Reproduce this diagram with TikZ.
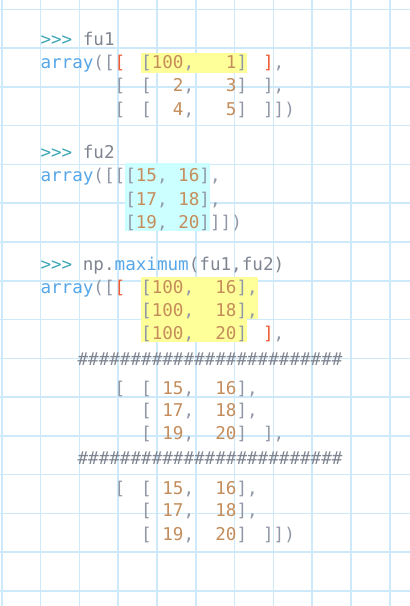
\documentclass[tikz,border=0pt]{standalone}
\usepackage{fontspec}
\setmonofont{DejaVu Sans Mono}
\definecolor{gridc}{RGB}{205,233,250}
\definecolor{prompt}{RGB}{63,167,181}
\definecolor{fnblue}{RGB}{86,166,232}
\definecolor{plain}{RGB}{127,133,144}
\definecolor{punct}{RGB}{144,151,166}
\definecolor{numc}{RGB}{196,141,92}
\definecolor{redb}{RGB}{240,90,50}
\definecolor{hlyellow}{RGB}{255,255,153}
\definecolor{hlcyan}{RGB}{204,255,255}
\newcommand\pr[1]{\textcolor{prompt}{#1}}
\newcommand\fn[1]{\textcolor{fnblue}{#1}}
\newcommand\nm[1]{\textcolor{numc}{#1}}
\newcommand\rd[1]{\textcolor{redb}{#1}}
\newcommand\pl[1]{\textcolor{plain}{#1}}
\newcommand\hashes{\#\#\#\#\#\#\#\#\#\#\#\#\#\#\#\#\#\#\#\#\#\#\#\#\#}
% column -> x
\newcommand\cx[1]{40.5+10.6*#1}
\begin{document}
\begin{tikzpicture}
    [x=1pt,y=-1pt,
     code/.style ={anchor=base west,inner sep=0pt,outer sep=0pt,text=punct,
                   font=\fontsize{17.6}{20}\selectfont\ttfamily},
     hash/.style ={code,text=plain}]
    \useasboundingbox (0,0) rectangle (410,606);
    \fill[white] (0,0) rectangle (410,606);
    % squared paper
    \foreach \i in {0,...,15}
        \draw[gridc,line width=1.6pt] (0,{9.3+38.78*\i}) -- (410,{9.3+38.78*\i});
    \foreach \i in {0,...,10}
        \draw[gridc,line width=1.6pt] ({1.9+38.78*\i},0) -- ({1.9+38.78*\i},606);
    % highlights
    \fill[hlyellow] ({\cx{9.5}},53.3) rectangle ({\cx{19.5}},73.3);
    \fill[hlcyan] ({\cx{8}},163.3) rectangle ({\cx{16}},230.5);
    \fill[hlyellow] ({\cx{9.5}},276.7) rectangle ({\cx{20.5}},319);
    \fill[hlyellow] ({\cx{9.5}},319) rectangle ({\cx{19.5}},342);

    % fu1
    \node[code] (p1) at ({\cx{0}},45.5) {\pr{>>>}~\pl{fu1}};
    \node[code] (a1) at ({\cx{0}},68.5) {\fn{array}([\rd{[}};
    \node[code] (r11) at ({\cx{9.5}},68.5) {[\nm{100},~~~\nm{1}]};
    \node[code] (e11) at ({\cx{21}},68.5) {\rd{]},};
    \node[code] (o12) at ({\cx{7}},91.7) {[};
    \node[code] (r12) at ({\cx{9.5}},91.7) {[~~\nm{2},~~~\nm{3}]};
    \node[code] (e12) at ({\cx{21}},91.7) {],};
    \node[code] (o13) at ({\cx{7}},115) {[};
    \node[code] (r13) at ({\cx{9.5}},115) {[~~\nm{4},~~~\nm{5}]};
    \node[code] (e13) at ({\cx{21}},115) {]])};

    % fu2
    \node[code] (p2) at ({\cx{0}},158.3) {\pr{>>>}~\pl{fu2}};
    \node[code] (a2) at ({\cx{0}},181.7) {\fn{array}([[[\nm{15},~\nm{16}],};
    \node[code] (r22) at ({\cx{8}},205) {[\nm{17},~\nm{18}],};
    \node[code] (r23) at ({\cx{8}},228) {[\nm{19},~\nm{20}]]])};

    % np.maximum
    \node[code] (p3) at ({\cx{0}},270.7) {\pr{>>>}~\pl{np.}\fn{maximum}\pl{(fu1,fu2)}};
    \node[code] (a3) at ({\cx{0}},293.5) {\fn{array}([\rd{[}};
    \node[code] (r31) at ({\cx{9.5}},293.5) {[\nm{100},~~\nm{16}],};
    \node[code] (r32) at ({\cx{9.5}},316.7) {[\nm{100},~~\nm{18}],};
    \node[code] (r33) at ({\cx{9.5}},339.5) {[\nm{100},~~\nm{20}]};
    \node[code] (e33) at ({\cx{21}},339.5) {\rd{]},};
    \node[hash] (h1) at ({\cx{3.5}},365.5) {\hashes};
    \node[code] (o4) at ({\cx{7}},394) {[};
    \node[code] (r41) at ({\cx{9.5}},394) {[~\nm{15},~~\nm{16}],};
    \node[code] (r42) at ({\cx{9.5}},416.7) {[~\nm{17},~~\nm{18}],};
    \node[code] (r43) at ({\cx{9.5}},439.3) {[~\nm{19},~~\nm{20}]};
    \node[code] (e43) at ({\cx{21}},439.3) {],};
    \node[hash] (h2) at ({\cx{3.5}},464.5) {\hashes};
    \node[code] (o5) at ({\cx{7}},494) {[};
    \node[code] (r51) at ({\cx{9.5}},494) {[~\nm{15},~~\nm{16}],};
    \node[code] (r52) at ({\cx{9.5}},516.7) {[~\nm{17},~~\nm{18}],};
    \node[code] (r53) at ({\cx{9.5}},540) {[~\nm{19},~~\nm{20}]};
    \node[code] (e53) at ({\cx{21}},540) {]])};
\end{tikzpicture}
\end{document}
